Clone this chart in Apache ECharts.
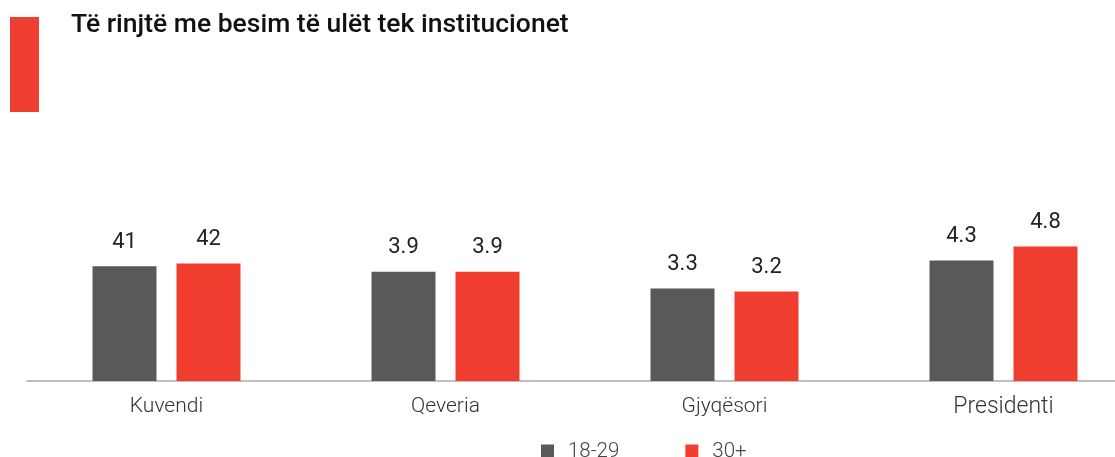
<!DOCTYPE html>
<html>
<head>
<meta charset="utf-8">
<script src="https://cdn.jsdelivr.net/npm/echarts@6/dist/echarts.min.js"></script>
<style>
html,body{margin:0;padding:0;background:#fff;}
#c{width:1115px;height:457px;}
</style>
</head>
<body>
<div id="c"></div>
<script>
const title = "Të rinjtë me besim të ulët tek institucionet";
const categories = ["Kuvendi", "Qeveria", "Gjyqësori", "Presidenti"];
const seriesNames = ["18-29", "30+"];
const values1829 = [4.1, 3.9, 3.3, 4.3];
const values30 = [4.2, 3.9, 3.2, 4.8];
const labels1829 = ["41", "3.9", "3.3", "4.3"];
const labels30 = ["42", "3.9", "3.2", "4.8"];

const DARK = "#58595b";
const RED = "#ef3e2f";
const FONT = "Roboto";

const chart = echarts.init(document.getElementById('c'));
function labelCfg(arr) {
  return {
    show: true, position: 'top', distance: 13,
    fontFamily: FONT, fontSize: 22, color: '#222',
    formatter: p => arr[p.dataIndex]
  };
}
chart.setOption({
  animation: false,
  graphic: [
    { type: 'rect', left: 10, top: 17, shape: { width: 29, height: 95 }, style: { fill: '#ef3e32' } },
    { type: 'text', left: 71, top: 12, style: { text: title, fontFamily: FONT, fontSize: 26.5, fontWeight: 500, fill: '#111' } }
  ],
  legend: {
    data: seriesNames,
    left: 541, top: 441, padding: 0,
    itemWidth: 13, itemHeight: 14, itemGap: 66,
    icon: 'rect',
    textStyle: { fontFamily: FONT, fontSize: 20.5, fontWeight: 300, color: '#444', padding: [0, 0, 0, 9] }
  },
  grid: { left: 27, top: 241, width: 1116, height: 140, outerBoundsMode: 'none', containLabel: false },
  xAxis: {
    type: 'category', data: categories,
    axisLine: { lineStyle: { color: '#bfbfc0', width: 2 } },
    axisTick: { show: false },
    axisLabel: {
      margin: 15, fontFamily: FONT, fontSize: 21, fontWeight: 300, color: '#333',
      formatter: v => v === 'Presidenti' ? '{big|' + v + '}' : v,
      rich: { big: { fontFamily: FONT, fontSize: 23, fontWeight: 300, color: '#333' } }
    }
  },
  yAxis: { type: 'value', min: 0, max: 5, show: false, splitLine: { show: false } },
  series: [
    { name: seriesNames[0], type: 'bar', data: values1829, barWidth: 64, barGap: '31.25%', itemStyle: { color: DARK }, label: labelCfg(labels1829) },
    { name: seriesNames[1], type: 'bar', data: values30, barWidth: 64, itemStyle: { color: RED }, label: labelCfg(labels30) }
  ]
});
</script>
</body>
</html>
